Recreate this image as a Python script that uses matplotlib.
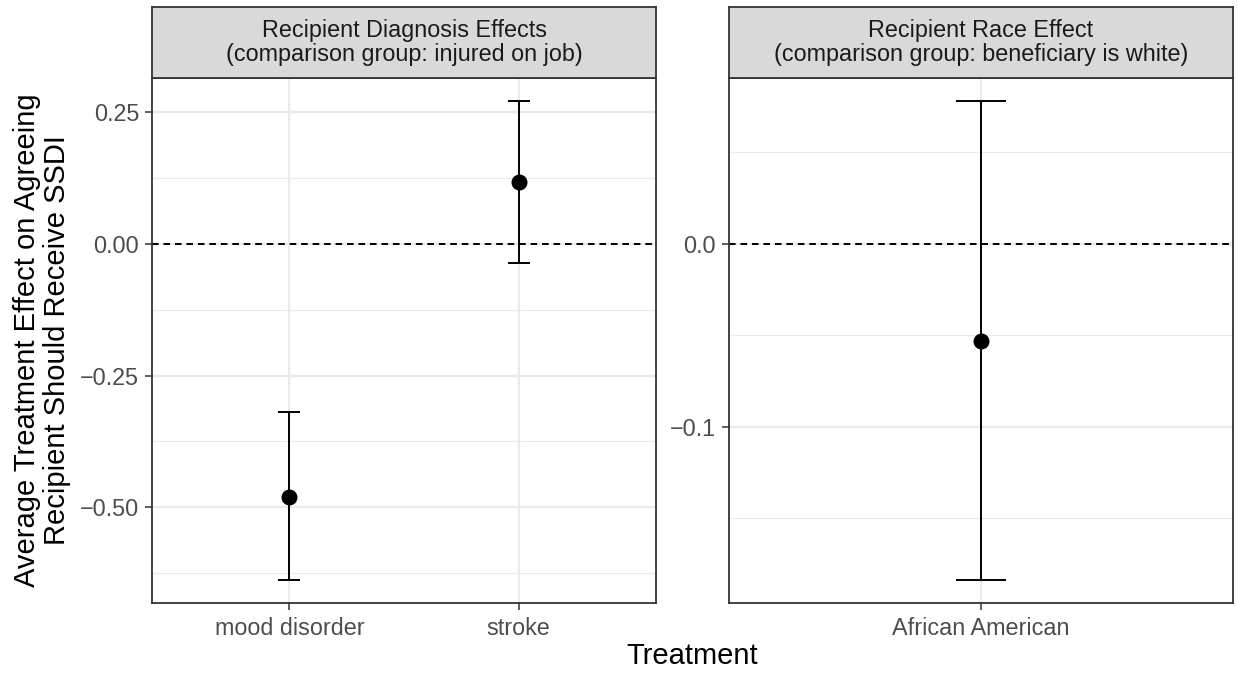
import matplotlib
matplotlib.use("Agg")
import matplotlib.pyplot as plt
import numpy as np

plt.rcParams['font.family'] = ['Liberation Sans', 'DejaVu Sans']

# panel 1: diagnosis effects
diag_labels = ["mood disorder", "stroke"]
diag_est = [-0.480, 0.1165]
diag_lo = [-0.638, -0.036]
diag_hi = [-0.320, 0.2708]
diag_ticks = [0.25, 0.0, -0.25, -0.5]
diag_ticklabels = ["0.25", "0.00", "\u22120.25", "\u22120.50"]
diag_minor = [0.125, -0.125, -0.375, -0.625]

# panel 2: race effect
race_labels = ["African American"]
race_est = [-0.0530]
race_lo = [-0.1838]
race_hi = [0.0781]
race_ticks = [0.0, -0.1]
race_ticklabels = ["0.0", "\u22120.1"]
race_minor = [0.05, -0.05, -0.15]

strip_titles = [
    "Recipient Diagnosis Effects\n(comparison group: injured on job)",
    "Recipient Race Effect\n(comparison group: beneficiary is white)",
]

W, H = 1238, 673
fig = plt.figure(figsize=(W / 100, H / 100), dpi=100)

border = "#333333"
grid = "#EBEBEB"


def panel(x0, x1, labels, est, lo, hi, ticks, ticklabels, minor, ylim, capsize, title):
    ax = fig.add_axes([x0 / W, (H - 603) / H, (x1 - x0) / W, 525 / H])
    n = len(labels)
    xs = np.arange(1, n + 1)
    ax.set_xlim(0.4, n + 0.6)
    ax.set_ylim(*ylim)
    for m in minor:
        ax.axhline(m, color=grid, lw=0.8, zorder=0)
    for t in ticks:
        ax.axhline(t, color=grid, lw=1.6, zorder=0)
    for x in xs:
        ax.axvline(x, color=grid, lw=1.6, zorder=0)
    ax.axhline(0, color="black", lw=1.4, dashes=(3.4, 2.5), zorder=1)
    est = np.array(est)
    yerr = [est - np.array(lo), np.array(hi) - est]
    ax.errorbar(xs, est, yerr=yerr, fmt="o", color="black", ms=10.5,
                elinewidth=1.4, capsize=capsize, capthick=1.4, zorder=3)
    ax.set_xticks(xs)
    ax.set_xticklabels(labels)
    ax.set_yticks(ticks)
    ax.set_yticklabels(ticklabels)
    ax.tick_params(axis="both", colors=border, labelcolor="#4D4D4D",
                   labelsize=16.8, length=5.3, width=1.1, pad=4)
    ax.tick_params(axis="x", pad=5)
    for s in ax.spines.values():
        s.set_color(border)
        s.set_linewidth(1.3)
    # strip
    sx = fig.add_axes([x0 / W, (H - 78) / H, (x1 - x0) / W, 71 / H])
    sx.set_xticks([])
    sx.set_yticks([])
    sx.set_facecolor("#D9D9D9")
    for s in sx.spines.values():
        s.set_color(border)
        s.set_linewidth(1.3)
    sx.text(0.5, 0.5, title, ha="center", va="center", fontsize=16.8,
            color="#1A1A1A", linespacing=1.1, transform=sx.transAxes)
    return ax


panel(152, 656, diag_labels, diag_est, diag_lo, diag_hi, diag_ticks,
      diag_ticklabels, diag_minor, (-0.6816, 0.3145), 8.2, strip_titles[0])
panel(729, 1233, race_labels, race_est, race_lo, race_hi, race_ticks,
      race_ticklabels, race_minor, (-0.1963, 0.0905), 18, strip_titles[1])

fig.text(42 / W, 1 - 340 / H,
         "Average Treatment Effect on Agreeing\nRecipient Should Receive SSDI",
         rotation=90, ha="center", va="center", fontsize=21, linespacing=1.1)
fig.text(692.5 / W, 1 - 656 / H, "Treatment", ha="center", va="center", fontsize=21)

fig.savefig("out.png", dpi=100)
